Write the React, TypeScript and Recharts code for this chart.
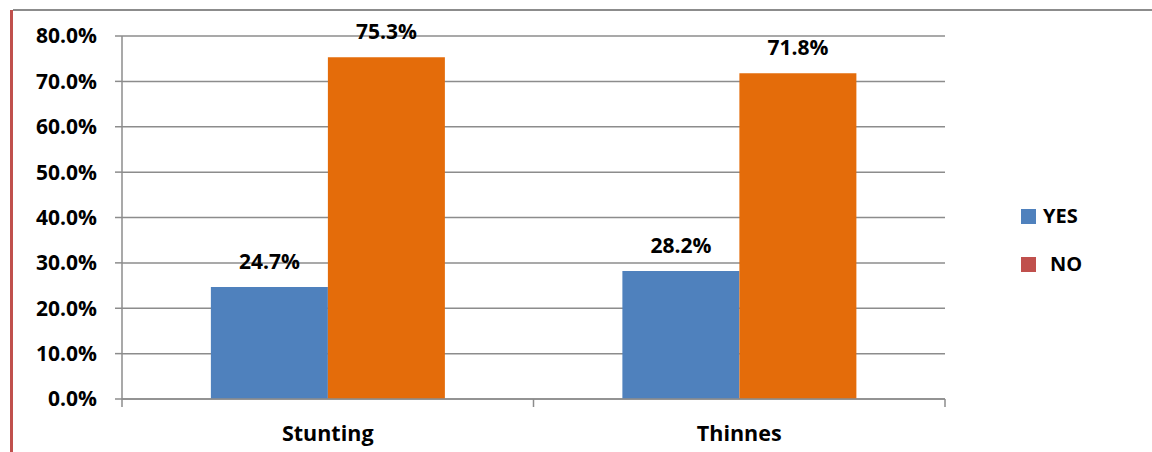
import React from "react";
import { BarChart, Bar, XAxis, YAxis, CartesianGrid, LabelList } from "recharts";

const categories = ["Stunting", "Thinnes"];
const yesValues = [24.7, 28.2];
const noValues = [75.3, 71.8];
const yTicks = [0, 10, 20, 30, 40, 50, 60, 70, 80];
const legendItems = [
  { label: "YES", color: "#4F81BD" },
  { label: "NO", color: "#C0504D" },
];

const data = categories.map((name, i) => ({ name, yes: yesValues[i], no: noValues[i] }));

const W = 1152;
const H = 452;
const PLOT_LEFT = 122;
const PLOT_RIGHT = 945;
const PLOT_TOP = 36;
const PLOT_BOTTOM = 399;
const FONT = "'Open Sans', Roboto, sans-serif";
const AXIS_GRAY = "#8C8C8C";

const fmt = (v: number) => `${v.toFixed(1)}%`;
const labelStyle = { fontFamily: FONT, fontWeight: 700, fontSize: 21, fill: "#000" };

// Category tick: label at the band centre, tick marks on the band edges
const CategoryTick = (props: any) => {
  const { x, payload, index, visibleTicksCount } = props;
  const half = (PLOT_RIGHT - PLOT_LEFT) / (2 * categories.length);
  return (
    <g>
      <line x1={x - half} x2={x - half} y1={PLOT_BOTTOM} y2={PLOT_BOTTOM + 8} stroke={AXIS_GRAY} strokeWidth={1.5} />
      {index === visibleTicksCount - 1 && (
        <line x1={x + half} x2={x + half} y1={PLOT_BOTTOM} y2={PLOT_BOTTOM + 8} stroke={AXIS_GRAY} strokeWidth={1.5} />
      )}
      <text x={x} y={PLOT_BOTTOM + 42} textAnchor="middle" fontFamily={FONT} fontWeight={700} fontSize={21.5} fill="#000">
        {payload.value}
      </text>
    </g>
  );
};

const ChartLegend = () => (
  <div
    style={{
      position: "absolute",
      left: 1021,
      top: 192,
      fontFamily: FONT,
      fontWeight: 700,
      fontSize: 20,
      color: "#000",
      lineHeight: "24px",
    }}
  >
    {legendItems.map((it, i) => (
      <div key={it.label} style={{ display: "flex", alignItems: "center", height: 48 }}>
        <span style={{ width: 15, height: 15, background: it.color, display: "inline-block" }} />
        <span style={{ marginLeft: i === 0 ? 7 : 14 }}>{it.label}</span>
      </div>
    ))}
  </div>
);

export default function App() {
  return (
    <div style={{ position: "absolute", left: 0, top: 0, width: W, height: H, background: "#fff", overflow: "hidden" }}>
      <div style={{ position: "absolute", left: 10, top: 10, width: 3, height: H - 10, background: "#C0504D" }} />
      <div style={{ position: "absolute", left: 13, top: 9, width: W - 13, height: 2, background: "#8C8C8C" }} />
      <BarChart
        width={W}
        height={H}
        data={data}
        margin={{ top: PLOT_TOP, right: W - PLOT_RIGHT, bottom: 0, left: 0 }}
        barCategoryGap="21.6%"
        barGap={0}
      >
        <CartesianGrid vertical={false} stroke={AXIS_GRAY} strokeWidth={1.5} />
        <XAxis
          dataKey="name"
          axisLine={{ stroke: AXIS_GRAY, strokeWidth: 1.5 }}
          tickLine={false}
          tick={<CategoryTick />}
          height={H - PLOT_BOTTOM}
        />
        <YAxis
          width={PLOT_LEFT}
          domain={[0, 80]}
          ticks={yTicks}
          interval={0}
          tickFormatter={fmt}
          axisLine={{ stroke: AXIS_GRAY, strokeWidth: 1.5 }}
          tickLine={{ stroke: AXIS_GRAY, strokeWidth: 1.5 }}
          tickSize={7}
          tickMargin={18}
          tick={{ fontFamily: FONT, fontWeight: 700, fontSize: 21, fill: "#000" }}
        />
        <Bar dataKey="yes" fill="#4F81BD" isAnimationActive={false}>
          <LabelList dataKey="yes" position="top" offset={18} formatter={(v: any) => fmt(Number(v))} style={labelStyle} />
        </Bar>
        <Bar dataKey="no" fill="#E46C0A" isAnimationActive={false}>
          <LabelList dataKey="no" position="top" offset={18} formatter={(v: any) => fmt(Number(v))} style={labelStyle} />
        </Bar>
      </BarChart>
      <ChartLegend />
    </div>
  );
}
